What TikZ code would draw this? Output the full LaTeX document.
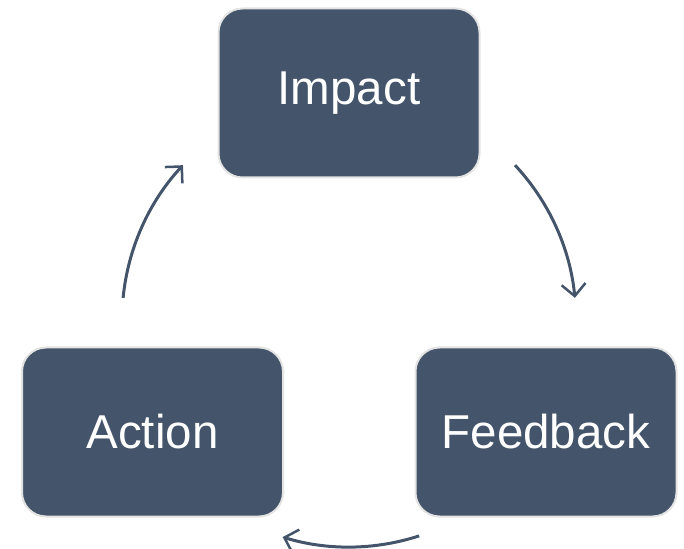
\documentclass[tikz,border=0pt]{standalone}
\usepackage{fontspec}
\setmainfont{Liberation Sans}
\usetikzlibrary{arrows.meta}
\definecolor{boxblue}{HTML}{44546A}
\definecolor{boxedge}{HTML}{E3E3E3}
\begin{document}
\begin{tikzpicture}[x=1pt,y=1pt,
  stagebox/.style={draw=boxedge, line width=2pt, fill=boxblue, rounded corners=24pt,
    minimum width=261pt, minimum height=169pt, inner sep=0pt, text=white,
    font=\fontsize{47.5}{54}\selectfont},
  cyclearrow/.style={draw=boxblue, line width=3pt,
    -{Straight Barb[length=12pt,width=24pt,line width=2.5pt]}}]
\useasboundingbox (0,0) rectangle (684,548);
\node[stagebox] (impact) at (349,455) {Impact};
\node[stagebox] (action) at (152.5,116) {Action};
\node[stagebox] (feedback) at (546,116) {Feedback};
\coordinate (c) at (349,228);
\draw[cyclearrow] ([shift={(43:227)}]c) arc[start angle=43, end angle=5.6, radius=227];
\draw[cyclearrow] ([shift={(-72:227)}]c) arc[start angle=-72, end angle=-107, radius=227];
\draw[cyclearrow] ([shift={(174.4:227)}]c) arc[start angle=174.4, end angle=137, radius=227];
\end{tikzpicture}
\end{document}
